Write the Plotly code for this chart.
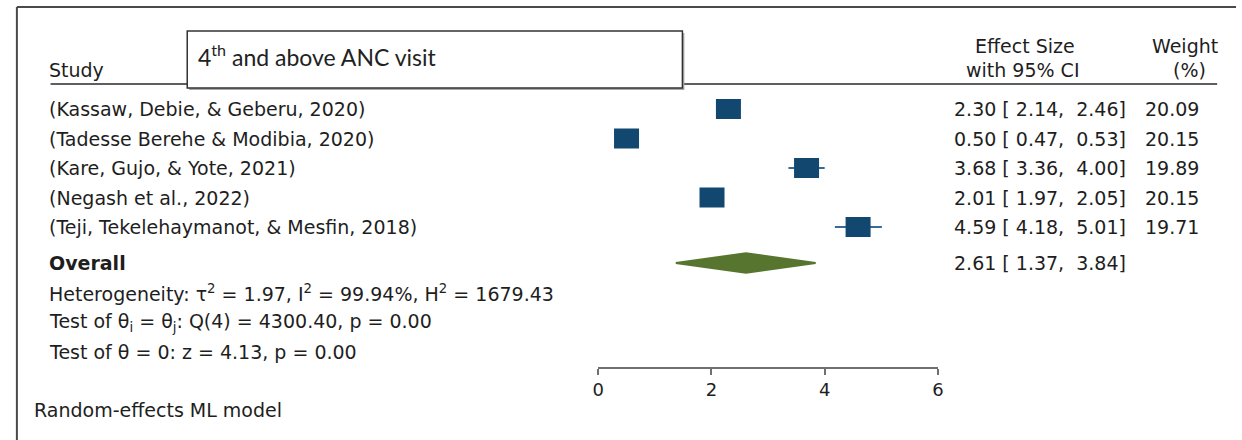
import plotly.graph_objects as go

# Study-level estimates (effect size with 95% CI) and random-effects weights
studies = [
    "(Kassaw, Debie, & Geberu, 2020)",
    "(Tadesse Berehe & Modibia, 2020)",
    "(Kare, Gujo, & Yote, 2021)",
    "(Negash et al., 2022)",
    "(Teji, Tekelehaymanot, & Mesfin, 2018)",
]
est = [2.30, 0.50, 3.68, 2.01, 4.59]
ci_low = [2.14, 0.47, 3.36, 1.97, 4.18]
ci_high = [2.46, 0.53, 4.00, 2.05, 5.01]
weights = [20.09, 20.15, 19.89, 20.15, 19.71]

# Pooled estimate
overall_est = 2.61
overall_low = 1.37
overall_high = 3.84

x_ticks = [0, 2, 4, 6]

title_box_text = "4<sup>th</sup> and above ANC visit"
stats_lines = [
    "Heterogeneity: \u03c4<sup>2</sup> = 1.97, I<sup>2</sup> = 99.94%, H<sup>2</sup> = 1679.43",
    "Test of \u03b8<sub>i</sub> = \u03b8<sub>j</sub>: Q(4) = 4300.40, p = 0.00",
    "Test of \u03b8 = 0: z = 4.13, p = 0.00",
]
model_note = "Random-effects ML model"

W, H = 1242, 440
FONT = "DejaVu Sans"
FS = 19
TXT = "#1e1e1e"
BOX_BLUE = "#124870"
WHISKER = "#3a6a92"
DIAMOND = "#57752f"
PAD = 7  # annotation inner padding + glyph bearing

rows = list(range(1, len(studies) + 1))
overall_row = 6.22
stats_rows = [7.24, 8.22, 9.22]
note_row = 11.2


def px(x):
    return x / W


def fmt_ci(e, l, h):
    return f"{e:.2f} [ {l:.2f},  {h:.2f}]"


fig = go.Figure()

# Confidence-interval whiskers
for r, l, h in zip(rows, ci_low, ci_high):
    fig.add_trace(go.Scatter(
        x=[l, h], y=[r, r], mode="lines",
        line=dict(color=WHISKER, width=2),
        hoverinfo="skip", showlegend=False,
    ))

# Pooled-estimate diamond
half_h = 0.33
fig.add_trace(go.Scatter(
    x=[overall_low, overall_est, overall_high, overall_est, overall_low],
    y=[overall_row, overall_row - half_h, overall_row, overall_row + half_h, overall_row],
    mode="lines", fill="toself", fillcolor=DIAMOND,
    line=dict(color=DIAMOND, width=2, shape="linear"),
    hoverinfo="skip", showlegend=False,
))

shapes = []

# Frame around the panel
shapes.append(dict(type="line", xref="paper", yref="paper",
                   x0=px(11), x1=1.0, y0=1 - 7 / H, y1=1 - 7 / H,
                   line=dict(color="#4a4a4a", width=2)))
shapes.append(dict(type="line", xref="paper", yref="paper",
                   x0=px(11), x1=px(11), y0=0, y1=1 - 7 / H,
                   line=dict(color="#4a4a4a", width=2)))

# Header rule
shapes.append(dict(type="line", xref="paper", yref="paper",
                   x0=px(45), x1=px(1223), y0=1 - 84 / H, y1=1 - 84 / H,
                   line=dict(color="#2a2a2a", width=1.5)))

# Title box with drop shadow
shapes.append(dict(type="rect", xref="paper", yref="paper",
                   x0=px(185), x1=px(685), y0=1 - 90 / H, y1=1 - 33 / H,
                   fillcolor="#a8a8a8", line=dict(width=0)))
shapes.append(dict(type="rect", xref="paper", yref="paper",
                   x0=px(183), x1=px(683), y0=1 - 88 / H, y1=1 - 31 / H,
                   fillcolor="white", line=dict(color="#333333", width=1.5)))

# Study boxes (equal weights, equal sizes)
for r, e in zip(rows, est):
    shapes.append(dict(type="rect", xref="x", yref="y",
                       xsizemode="pixel", xanchor=e, x0=-12.5, x1=12.5,
                       ysizemode="pixel", yanchor=r, y0=-10, y1=10,
                       fillcolor=BOX_BLUE, line=dict(width=0), layer="above"))

annotations = []


def add_text(text, x_px, y, anchor="left", size=FS, family=FONT, yref="y", color=TXT):
    if anchor == "left":
        x_px -= PAD
    annotations.append(dict(
        text=text, xref="paper", x=px(x_px), yref=yref, y=y,
        xanchor=anchor, yanchor="middle", showarrow=False,
        font=dict(family=family, size=size, color=color),
    ))


# Column headers
add_text("Study", 48, 1 - 70 / H, yref="paper")
add_text("Effect Size", 1029, 1 - 46 / H, anchor="center", yref="paper")
add_text("with 95% CI", 1027, 1 - 70 / H, anchor="center", yref="paper")
add_text("Weight", 1190, 1 - 46 / H, anchor="center", yref="paper")
add_text("(%)", 1195, 1 - 70 / H, anchor="center", yref="paper")

# Title box label
add_text(title_box_text, 199, 1 - 56 / H, size=23, family="Lato", yref="paper", color="#222222")

# Study rows
for r, name, e, l, h, w in zip(rows, studies, est, ci_low, ci_high, weights):
    add_text(name, 48, r)
    add_text(fmt_ci(e, l, h), 1044, r, anchor="center")
    add_text(f"{w:.2f}", 1177, r, anchor="center")

# Overall row
add_text("<b>Overall</b>", 48, overall_row)
add_text(fmt_ci(overall_est, overall_low, overall_high), 1044, overall_row, anchor="center")

# Heterogeneity statistics
for r, s in zip(stats_rows, stats_lines):
    add_text(s, 48, r)

add_text(model_note, 33, note_row)

fig.update_layout(
    width=W, height=H,
    margin=dict(l=0, r=0, t=0, b=0),
    paper_bgcolor="white", plot_bgcolor="white",
    shapes=shapes, annotations=annotations,
    showlegend=False,
    xaxis=dict(
        domain=[598 / W, 941 / W], range=[0, 6],
        anchor="free", position=1 - 368 / H,
        showline=True, linecolor="#707070", linewidth=1.5,
        ticks="outside", ticklen=6, tickwidth=1.5, tickcolor="#707070",
        tickvals=x_ticks, ticktext=[str(t) for t in x_ticks],
        tickfont=dict(family=FONT, size=18, color=TXT),
        showgrid=False, zeroline=False, fixedrange=True,
    ),
    yaxis=dict(
        domain=[0, 1], range=[12.22, -2.695],
        visible=False, showgrid=False, zeroline=False, fixedrange=True,
    ),
)

fig.write_html("out.html")
